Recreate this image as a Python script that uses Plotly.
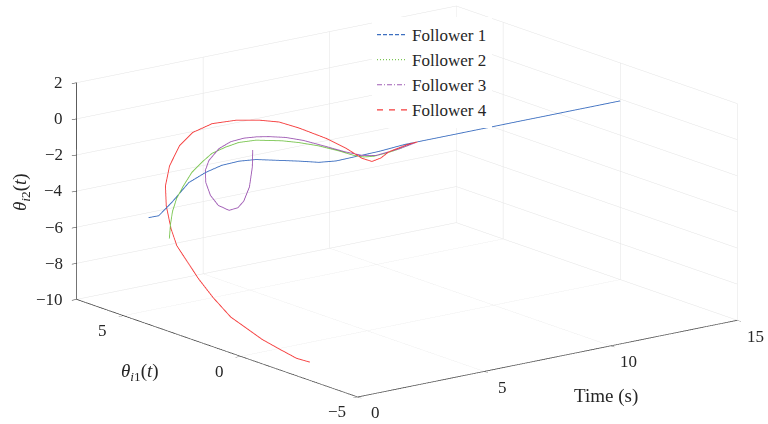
import plotly.graph_objects as go

# ---------------- data ----------------
followers = ["Follower 1", "Follower 2", "Follower 3", "Follower 4"]
colors = ["#3d6fc0", "#7cc653", "#a05db5", "#f53c3c"]
legend_dash = ["4px,2px", "1px,2px", "5px,2px,1px,2px", "6px,6px"]

# Follower 1
t_f1 = [0, 0.3, 0.6, 1.0, 1.4, 1.8, 2.2, 2.6, 3.0, 3.5, 4.0, 4.5, 5.0, 5.5, 6.5,
        7, 8, 9, 10, 11, 12, 13, 14, 15]
th1_f1 = [3.93, 3.82, 3.59, 3.29, 3.00, 2.75, 2.45, 2.16, 1.78, 1.29, 0.98, 0.79, 0.35, 0.03, 0.00,
          0.0, 0.0, 0.0, 0.0, 0.0, 0.0, 0.0, 0.0, 0.0]
th2_f1 = [-4.09, -4.02, -3.27, -2.14, -1.56, -1.17, -0.92, -0.81, -0.79, -0.76, -0.83, -0.81, -0.47, -0.22, -0.10,
          -0.1, -0.1, -0.1, -0.1, -0.1, -0.1, -0.1, -0.1, -0.1]

# Follower 2
t_f2 = [0, 0.2, 0.4, 0.6, 0.85, 1.1, 1.4, 1.7, 2.0, 2.3, 2.7, 3.2, 3.6, 4.0, 4.4, 4.8, 5.1, 5.4, 5.8, 6.2,
        7, 8, 9, 10, 11, 12, 13, 14, 15]
th1_f2 = [3.04, 3.21, 3.34, 3.38, 3.35, 3.27, 3.17, 3.06, 2.79, 2.56, 2.26, 1.69, 1.40, 0.98, 0.56, 0.35, 0.24, 0.14, -0.07, -0.07,
          0.0, 0.0, 0.0, 0.0, 0.0, 0.0, 0.0, 0.0, 0.0]
th2_f2 = [-4.85, -4.21, -3.60, -2.95, -2.29, -1.60, -1.08, -0.62, -0.23, 0.04, 0.19, 0.27, 0.19, 0.08, -0.12, -0.39, -0.51, -0.51, -0.31, -0.24,
          -0.1, -0.1, -0.1, -0.1, -0.1, -0.1, -0.1, -0.1, -0.1]

# Follower 3
t_f3 = [0, 0.15, 0.35, 0.55, 0.7, 0.85, 1.0, 1.15, 1.3, 1.45, 1.6, 1.8, 2.0, 2.2, 2.45, 2.7, 3.0, 3.4, 3.9, 4.4,
        4.85, 5.25, 5.7, 6.1, 7, 8, 9, 10, 11, 12, 13, 14, 15]
th1_f3 = [-0.52, -0.34, 0.00, 0.46, 0.87, 1.41, 2.03, 2.53, 2.89, 3.07, 3.08, 2.87, 2.58, 2.24, 1.96, 1.72, 1.32, 0.98, 0.59, 0.28,
          0.06, -0.11, -0.18, -0.18, 0.0, 0.0, 0.0, 0.0, 0.0, 0.0, 0.0, 0.0, 0.0]
th2_f3 = [1.67, 0.60, -0.72, -1.77, -2.36, -2.79, -2.84, -2.55, -2.04, -1.49, -0.99, -0.30, 0.16, 0.45, 0.58, 0.63, 0.68, 0.55, 0.26, -0.05,
          -0.27, -0.31, -0.20, -0.15, -0.1, -0.1, -0.1, -0.1, -0.1, -0.1, -0.1, -0.1, -0.1]

# Follower 4
t_f4 = [0, 0.1, 0.2, 0.3, 0.4, 0.5, 0.65, 0.8, 0.95, 1.1, 1.25, 1.45, 1.65, 1.85, 2.05, 2.25, 2.5, 2.8, 3.1, 3.4,
        3.7, 4.1, 4.45, 4.8, 5.05, 5.3, 5.6, 5.95, 6.5, 7, 8, 9, 10, 11, 12, 13, 14, 15]
th1_f4 = [-2.96, -2.28, -1.46, -0.60, 0.22, 0.96, 1.87, 2.66, 3.33, 3.91, 4.32, 4.74, 4.99, 5.03, 4.82, 4.48, 3.91, 3.21, 2.56, 2.03,
          1.51, 0.79, 0.32, 0.01, -0.15, -0.26, -0.28, -0.34, -0.12, 0.0, 0.0, 0.0, 0.0, 0.0, 0.0, 0.0, 0.0, 0.0]
th2_f4 = [-8.99, -9.11, -9.01, -8.88, -8.62, -8.40, -7.78, -7.13, -6.47, -5.95, -5.23, -4.21, -3.27, -2.23, -1.08, -0.26, 0.42, 0.84, 1.05, 1.10,
          0.92, 0.56, 0.13, -0.39, -0.57, -0.40, -0.13, 0.02, -0.05, -0.1, -0.1, -0.1, -0.1, -0.1, -0.1, -0.1, -0.1, -0.1]

time_ticks = [0, 5, 10, 15]
th1_ticks = [-5, 0, 5]
th2_ticks = [-10, -8, -6, -4, -2, 0, 2]

time_range = [0, 15]
th1_range = [-5, 7]
th2_range = [-10, 2]

series = [(t_f1, th1_f1, th2_f1), (t_f2, th1_f2, th2_f2),
          (t_f3, th1_f3, th2_f3), (t_f4, th1_f4, th2_f4)]

# ---------------- figure ----------------
FONT = "'Liberation Serif', 'Times New Roman', Times, serif"
INK = "#262626"
fig = go.Figure()

# draw red first so the shared consensus segment shows the blue/purple mix
for idx in [3, 1, 2, 0]:
    tt, a1, a2 = series[idx]
    fig.add_trace(go.Scatter3d(x=tt, y=a1, z=a2, mode="lines", name=followers[idx],
                               line=dict(color=colors[idx], width=1.8), showlegend=False))

# legend entries (dashed samples, as in the reference legend)
for name, col, dsh in zip(followers, colors, legend_dash):
    fig.add_trace(go.Scatter(x=[None], y=[None], mode="lines", name=name,
                             line=dict(color=col, dash=dsh, width=1.2)))

ax = dict(showbackground=False, gridcolor="#e3e3e3", gridwidth=1,
          showline=True, linecolor=INK, linewidth=1.5,
          ticks="outside", ticklen=6, tickcolor=INK,
          showticklabels=False,
          zeroline=False, showspikes=False, title=dict(text=""),
          autorange=False)


def fmt(v):
    return str(v).replace("-", "\u2212")


tick_font = dict(family=FONT, size=17, color=INK)
scene_ann = []
# z (theta_i2) tick labels on the left vertical edge
for v in th2_ticks:
    scene_ann.append(dict(x=time_range[0], y=th1_range[1], z=v, text=fmt(v), showarrow=False,
                          xanchor="right", yanchor="middle", xshift=-12, font=tick_font))
# theta_i1 tick labels on the front-left floor edge
for v in th1_ticks:
    scene_ann.append(dict(x=time_range[0], y=v, z=th2_range[0], text=fmt(v), showarrow=False,
                          xanchor="center", yanchor="middle", xshift=-21, yshift=-15, font=tick_font))
# time tick labels on the front-right floor edge
for v in time_ticks:
    scene_ann.append(dict(x=v, y=th1_range[0], z=th2_range[0], text=fmt(v), showarrow=False,
                          xanchor="center", yanchor="middle", xshift=18, yshift=-16, font=tick_font))

K = 3.0
scene = dict(
    domain=dict(x=[0.06, 1.0], y=[0.05, 1.0]),
    xaxis=dict(ax, range=time_range, tickvals=time_ticks),
    yaxis=dict(ax, range=th1_range, tickvals=th1_ticks),
    zaxis=dict(ax, range=th2_range, tickvals=th2_ticks),
    aspectmode="manual",
    aspectratio=dict(x=2.37, y=2.30, z=1.115),
    camera=dict(eye=dict(x=-0.585 * K, y=-0.767 * K, z=0.265 * K),
                up=dict(x=0, y=0, z=1), center=dict(x=0, y=0, z=0),
                projection=dict(type="orthographic")),
    bgcolor="rgba(0,0,0,0)",
    annotations=scene_ann,
)

label_font = dict(family=FONT, size=19, color=INK)
annotations = [
    dict(text="<i>θ</i><sub><i>i</i>2</sub>(<i>t</i>)", x=21 / 768, y=1 - 192 / 424,
         xref="paper", yref="paper", showarrow=False, textangle=-90,
         xanchor="center", yanchor="middle", font=label_font),
    dict(text="<i>θ</i><sub><i>i</i>1</sub>(<i>t</i>)", x=140 / 768, y=1 - 372 / 424,
         xref="paper", yref="paper", showarrow=False,
         xanchor="center", yanchor="middle", font=label_font),
    dict(text="Time (s)", x=606 / 768, y=1 - 396 / 424,
         xref="paper", yref="paper", showarrow=False,
         xanchor="center", yanchor="middle", font=label_font),
]

fig.update_layout(
    template="none",
    font=dict(family=FONT, size=17, color=INK),
    width=768, height=424,
    margin=dict(l=0, r=0, t=0, b=0),
    paper_bgcolor="white", plot_bgcolor="white",
    scene=scene,
    xaxis=dict(visible=False, domain=[0, 0.01]),
    yaxis=dict(visible=False, domain=[0, 0.01]),
    legend=dict(x=372 / 768, y=1 - 17 / 424, xanchor="left", yanchor="top",
                bgcolor="white", borderwidth=0, itemwidth=30,
                font=dict(family=FONT, size=17, color=INK)),
    annotations=annotations,
    showlegend=True,
)

fig.write_html("out.html")
